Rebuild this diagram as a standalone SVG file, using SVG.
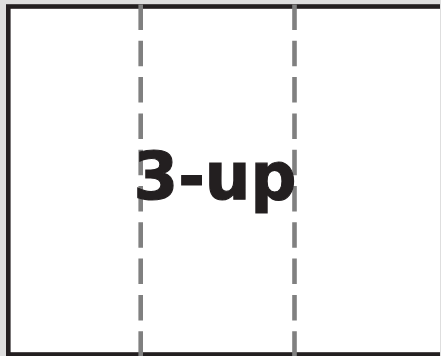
<svg xmlns="http://www.w3.org/2000/svg" width="441" height="356" viewBox="0 0 441 356">
<style>
.fold{stroke:#808080;stroke-width:4.6;stroke-dasharray:25.5 10.8;fill:none}
.border{fill:#ffffff;stroke:#231f20;stroke-width:4.6}
.label{font-family:"DejaVu Sans",sans-serif;font-weight:bold;font-size:66px;fill:#231f20;stroke:#231f20;stroke-width:1.2}
</style>
<rect x="0" y="0" width="441" height="356" fill="#dedede"/>
<g id="sheet">
<rect class="border" x="8.3" y="6.5" width="440" height="348"/>
<rect x="440" y="0" width="1" height="356" fill="#dedede"/>
</g>
<g id="connectors">
<line class="fold" x1="140.7" y1="4.5" x2="140.7" y2="356"/>
<line class="fold" x1="294.5" y1="4.5" x2="294.5" y2="356"/>
</g>
<g id="title">
<text class="label" x="133.5" y="198.5" textLength="163" lengthAdjust="spacingAndGlyphs">3-up</text>
</g>
</svg>
